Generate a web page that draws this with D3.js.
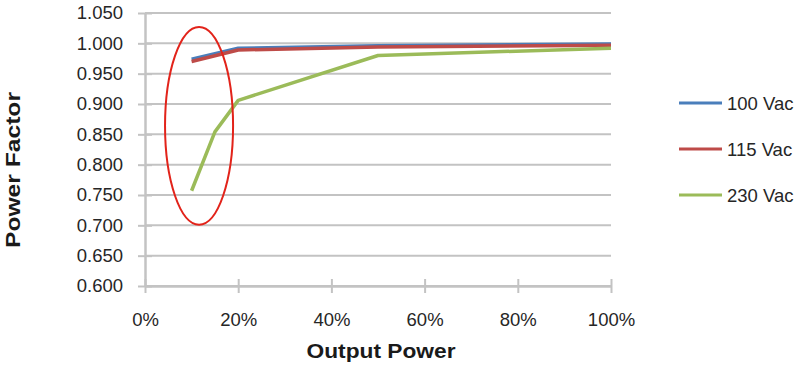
<!DOCTYPE html>
<html>
<head>
<meta charset="utf-8">
<script src="https://cdn.jsdelivr.net/npm/d3@7"></script>
<style>
html,body{margin:0;padding:0;background:#fff;}
svg{display:block;font-family:"Liberation Sans",Arial,sans-serif;}
</style>
</head>
<body>
<svg id="chart" width="800" height="368"></svg>
<script>
const xPct = [10, 15, 20, 50, 100];
const seriesNames = ["100 Vac", "115 Vac", "230 Vac"];
const seriesColors = ["#4a7ebb", "#be4b48", "#9bbb59"];
const v100 = [0.974, null, 0.992, 0.996, 0.999];
const v115 = [0.970, null, 0.989, 0.994, 0.997];
const v230 = [0.757, 0.854, 0.906, 0.980, 0.992];
const yTicks = [0.600, 0.650, 0.700, 0.750, 0.800, 0.850, 0.900, 0.950, 1.000, 1.050];
const xTicks = [0, 20, 40, 60, 80, 100];
// annotation ellipse (data units)
const ellipseCenter = {x: 11.6, y: 0.864};
const ellipseRadius = {x: 7.3, y: 0.163};

(function () {
const svg = d3.select("#chart");
const mLeft = 145, mRight = 611, mTop = 13, mBottom = 286;
const x = d3.scaleLinear().domain([0, 100]).range([mLeft, mRight]);
const y = d3.scaleLinear().domain([0.6, 1.05]).range([mBottom, mTop]);
const gridColor = "#c3c3c3";

svg.append("g").selectAll("line").data(yTicks).join("line")
  .attr("x1", mLeft).attr("x2", mRight)
  .attr("y1", d => y(d)).attr("y2", d => y(d))
  .attr("stroke", gridColor).attr("stroke-width", 2);

const yAxis = svg.append("g").attr("transform", `translate(${mLeft},0)`)
  .call(d3.axisLeft(y).tickValues(yTicks).tickFormat(d3.format(".3f")).tickSizeInner(7).tickSizeOuter(0).tickPadding(15));
yAxis.select(".domain").attr("stroke", gridColor).attr("stroke-width", 2.5);
yAxis.selectAll(".tick line").attr("stroke", gridColor).attr("stroke-width", 2).attr("x2", 7).attr("x1", -7);
yAxis.selectAll(".tick text").attr("font-size", "18.5px").attr("fill", "#262626")
  .attr("font-family", "Liberation Sans, Arial, sans-serif").attr("x", -22);

const xAxis = svg.append("g").attr("transform", `translate(0,${mBottom})`)
  .call(d3.axisBottom(x).tickValues(xTicks).tickFormat(d => d + "%").tickSizeInner(7).tickSizeOuter(0).tickPadding(18));
xAxis.select(".domain").attr("stroke", gridColor).attr("stroke-width", 2.5);
xAxis.selectAll(".tick line").attr("stroke", gridColor).attr("stroke-width", 2).attr("y1", -7).attr("y2", 7);
xAxis.selectAll(".tick text").attr("font-size", "18.5px").attr("fill", "#262626")
  .attr("font-family", "Liberation Sans, Arial, sans-serif").attr("y", 27).attr("dy", "0.71em");

const allSeries = [v100, v115, v230];
const line = d3.line().x(d => x(d.x)).y(d => y(d.v));
allSeries.forEach((vals, i) => {
  const pts = xPct.map((px, j) => ({x: px, v: vals[j]})).filter(d => d.v != null);
  svg.append("path").datum(pts).attr("d", line)
    .attr("fill", "none").attr("stroke", seriesColors[i]).attr("stroke-width", 3.5)
    .attr("stroke-linejoin", "round");
});

svg.append("ellipse")
  .attr("cx", x(ellipseCenter.x)).attr("cy", y(ellipseCenter.y))
  .attr("rx", x(ellipseCenter.x + ellipseRadius.x) - x(ellipseCenter.x))
  .attr("ry", y(ellipseCenter.y - ellipseRadius.y) - y(ellipseCenter.y))
  .attr("fill", "none").attr("stroke", "#e2231a").attr("stroke-width", 2);

const legY = [103, 149, 195];
const leg = svg.append("g");
seriesNames.forEach((name, i) => {
  leg.append("line").attr("x1", 679).attr("x2", 722).attr("y1", legY[i]).attr("y2", legY[i])
    .attr("stroke", seriesColors[i]).attr("stroke-width", 3);
  leg.append("text").attr("x", 727).attr("y", legY[i]).attr("dy", "0.36em")
    .attr("font-size", "18.5px").attr("fill", "#262626").text(name);
});

svg.append("text").attr("x", 381).attr("y", 358).attr("text-anchor", "middle")
  .attr("font-size", "21px").attr("font-weight", "bold").attr("fill", "#1a1a1a")
  .attr("textLength", 149).attr("lengthAdjust", "spacingAndGlyphs").text("Output Power");
svg.append("text").attr("transform", "translate(20,170) rotate(-90)").attr("text-anchor", "middle")
  .attr("font-size", "21px").attr("font-weight", "bold").attr("fill", "#1a1a1a")
  .attr("textLength", 156).attr("lengthAdjust", "spacingAndGlyphs").text("Power Factor");
})();
</script>
</body>
</html>
